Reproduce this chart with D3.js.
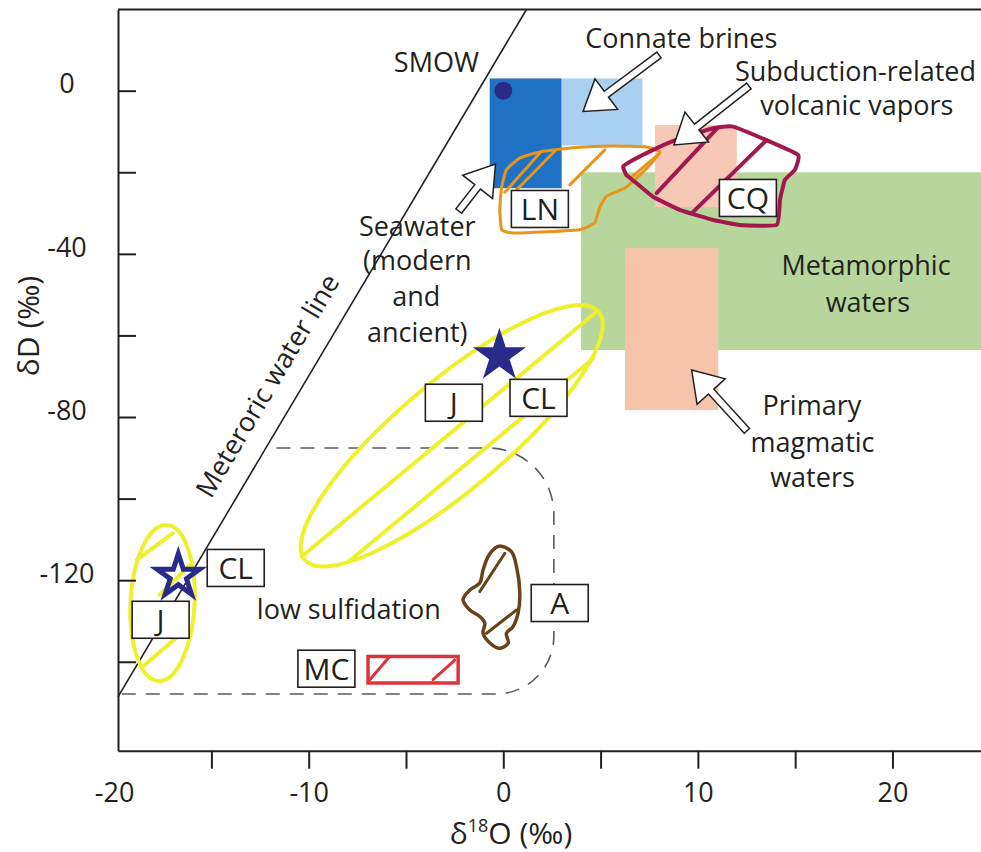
<!DOCTYPE html>
<html><head><meta charset="utf-8">
<script src="https://cdn.jsdelivr.net/npm/d3@7"></script>
<style>
body{margin:0;background:#fff;}
svg{display:block;font-family:"Open Sans",sans-serif;}
</style></head><body>
<svg id="chart" width="981" height="852"></svg>
<script>
// ---------- data (δ18O ‰, δD ‰) ----------
const xTickValues = [-20, -15, -10, -5, 0, 5, 10, 15, 20];
const xTickLabels = [-20, -10, 0, 10, 20];
const yTickValues = [0, -20, -40, -60, -80, -100, -120, -140];
const yTickLabels = [0, -40, -80, -120];

const boxFields = [
  {name: "Metamorphic waters", o18: [4.0, 24.6], dD: [-63.6, -20.0]},
  {name: "Primary magmatic waters", o18: [6.25, 11.05], dD: [-78.3, -38.6]},
  {name: "Subduction-related volcanic vapors", o18: [7.8, 12.0], dD: [-28.5, -8.4]},
  {name: "Seawater", o18: [-0.7, 3.0], dD: [-23.9, 3.0]},
  {name: "Connate brines", o18: [3.0, 7.15], dD: [-13.4, 3.0]}
];
const smow = [0, 0];
const meteoricLine = [[-19.8, -148.6], [1.19, 19.9]];

const lnOutline = [[-0.09,-23.85],[0.16,-19.4],[0.85,-16.5],[1.88,-15.0],[3.57,-14.0],[5.63,-13.55],[7.38,-13.8],[8.05,-15.0],[7.53,-18.2],[6.86,-21.4],[6.25,-23.85],[5.32,-25.8],[4.96,-28.5],[4.70,-32.4],[3.93,-34.1],[2.24,-34.6],[0.49,-34.9],[-0.08,-34.1],[-0.18,-29.2]];
const lnHatch = [[[0.08,-24.9],[1.88,-15.3]],[[0.69,-24.3],[2.65,-14.8]],[[3.42,-23.1],[5.22,-14.5]],[[6.66,-20.9],[8.05,-15.3]]];

const cqOutline = [[6.16,-18.6],[6.67,-17.0],[7.70,-14.5],[9.07,-11.7],[10.79,-9.2],[11.81,-8.8],[13.70,-12.5],[15.16,-15.8],[14.99,-19.4],[14.47,-21.9],[14.22,-26.8],[14.05,-32.9],[12.16,-32.9],[10.79,-31.7],[9.07,-29.2],[7.70,-26.0],[6.85,-22.7],[6.33,-20.7]];
const cqHatch = [[[7.88,-25.1],[11.0,-9.2]],[[9.76,-29.7],[13.53,-12.1]]];

const aOutline = [[-0.18,-111.6],[0.42,-113.0],[0.68,-116.7],[0.85,-123.2],[0.76,-128.1],[0.50,-131.4],[0.16,-133.0],[0.25,-135.4],[-0.18,-136.7],[-0.69,-135.4],[-1.04,-133.0],[-0.95,-130.5],[-1.21,-128.9],[-1.72,-127.3],[-2.07,-124.8],[-1.72,-122.4],[-1.21,-120.7],[-1.04,-117.5],[-0.78,-114.2],[-0.44,-112.2]];
const aHatch = [[[0.08,-113.4],[-1.21,-122.8]],[[0.68,-127.3],[-0.86,-133.0]]];

const mcRect = {o18: [-6.95, -2.32], dD: [-145.2, -138.7]};
const mcHatch = [[[-6.86,-144.4],[-5.84,-138.7]],[[-3.61,-144.4],[-2.49,-139.6]]];

const jBigEllipse = {center: [-2.65, -84.6], tip: [4.9, -54.2], minor: [-0.87, -94.8]};
const jBigChords = [[[-10.36,-114.2],[4.87,-53.9]],[[-7.91,-115.3],[4.64,-65.6]]];
const jSmallEllipse = {center: [-17.51, -125.6], tip: [-17.3, -106.5], minor: [-15.86, -125.6]};
const jSmallChords = [[[-18.84,-115.0],[-16.99,-108.5]],[[-17.66,-123.6],[-16.12,-116.3]],[[-18.43,-140.8],[-16.22,-131.7]]];

const lowSulfidation = {o18Left: [-11.66, -19.8], o18Right: 2.6, dDTop: -87.6, dDBottom: -147.9};

const stars = [
  {name: "CL", o18: -0.2, dD: -65.0, solid: true},
  {name: "CL", o18: -16.7, dD: -119.0, solid: false}
];
const boxLabels = [
  {t: "LN", o18: 1.88, dD: -29.0},
  {t: "CQ", o18: 12.57, dD: -26.3},
  {t: "J", o18: -2.54, dD: -76.5},
  {t: "CL", o18: 1.81, dD: -75.3},
  {t: "CL", o18: -13.75, dD: -117.0},
  {t: "J", o18: -17.61, dD: -129.7},
  {t: "A", o18: 2.90, dD: -125.6},
  {t: "MC", o18: -9.09, dD: -141.7}
];
const notes = [
  {t: "SMOW", o18: -3.44, dD: 4.6},
  {t: "Connate brines", o18: 9.15, dD: 10.5},
  {t: "Subduction-related", o18: 18.1, dD: 2.4},
  {t: "volcanic vapors", o18: 18.17, dD: -6.0},
  {t: "Seawater", o18: -4.42, dD: -35.6},
  {t: "(modern", o18: -4.42, dD: -44.0},
  {t: "and", o18: -4.47, dD: -52.8},
  {t: "ancient)", o18: -4.42, dD: -61.6},
  {t: "Metamorphic", o18: 18.64, dD: -45.2},
  {t: "waters", o18: 18.74, dD: -54.2},
  {t: "Primary", o18: 15.86, dD: -79.5},
  {t: "magmatic", o18: 15.89, dD: -88.5},
  {t: "waters", o18: 15.89, dD: -97.1},
  {t: "low sulfidation", o18: -7.94, dD: -129.5}
];
const meteoricLabel = {t: "Meteroric water line", o18: -11.7, dD: -73.5};
const arrows = [
  {tail: [-2.29, -29.5], tip: [-0.40, -18.0]},
  {tail: [8.0, 8.75], tip: [4.10, -5.1]},
  {tail: [12.62, 1.15], tip: [8.77, -13.3]},
  {tail: [12.52, -83.4], tip: [9.68, -68.5]}
];

// ---------- drawing ----------
const svg = d3.select("#chart");
const x = d3.scaleLinear().domain([-19.8, 24.55]).range([118, 981]);
const y = d3.scaleLinear().domain([-161.8, 19.9]).range([750.7, 9.5]);
const P = d => [x(d[0]), y(d[1])];
const ink = "#231f20";
const fieldColor = {
  "Metamorphic waters": "#b7d69b",
  "Primary magmatic waters": "#f6c3ab",
  "Subduction-related volcanic vapors": "#f6c8b5",
  "Seawater": "#1f72c3",
  "Connate brines": "#a9d0f1"
};

const plot = svg.append("g");
plot.selectAll("rect.field").data(boxFields).join("rect")
  .attr("class", "field")
  .attr("x", d => x(d.o18[0])).attr("width", d => x(d.o18[1]) - x(d.o18[0]))
  .attr("y", d => y(d.dD[1])).attr("height", d => y(d.dD[0]) - y(d.dD[1]))
  .attr("fill", d => fieldColor[d.name]);

plot.append("circle").attr("cx", x(smow[0])).attr("cy", y(smow[1])).attr("r", 9)
  .attr("fill", "#2a2b86");

const line = d3.line().x(d => x(d[0])).y(d => y(d[1]));
plot.append("path").attr("d", line(meteoricLine)).attr("stroke", ink).attr("stroke-width", 1.6).attr("fill", "none");

// low sulfidation dashed field
(function(){
  const xl1 = x(lowSulfidation.o18Left[0]), xl2 = x(lowSulfidation.o18Left[1]);
  const xr = x(lowSulfidation.o18Right), yt = y(lowSulfidation.dDTop), yb = y(lowSulfidation.dDBottom);
  const r1 = 66, r2 = 58;
  const d = `M${xl1},${yt}H${xr - r1}A${r1},${r1} 0 0 1 ${xr},${yt + r1}V${yb - r2}A${r2},${r2} 0 0 1 ${xr - r2},${yb}H${xl2}`;
  plot.append("path").attr("d", d).attr("fill", "none").attr("stroke", "#5b5b5b")
    .attr("stroke-width", 1.6).attr("stroke-dasharray", "14,10");
})();

const yellow = "#eef02c";
function drawEllipse(e, sw) {
  const c = P(e.center), t = P(e.tip), m = P(e.minor);
  const a = Math.hypot(t[0] - c[0], t[1] - c[1]);
  const b = Math.hypot(m[0] - c[0], m[1] - c[1]);
  const ang = Math.atan2(t[1] - c[1], t[0] - c[0]) * 180 / Math.PI;
  plot.append("ellipse").attr("cx", c[0]).attr("cy", c[1]).attr("rx", a).attr("ry", b)
    .attr("transform", `rotate(${ang},${c[0]},${c[1]})`)
    .attr("fill", "none").attr("stroke", yellow).attr("stroke-width", sw);
}
function drawSegs(segs, color, sw) {
  plot.append("g").selectAll("path").data(segs).join("path")
    .attr("d", d => line(d)).attr("stroke", color).attr("stroke-width", sw)
    .attr("fill", "none").attr("stroke-linecap", "round");
}
drawEllipse(jBigEllipse, 4);
drawSegs(jBigChords, yellow, 4);
drawEllipse(jSmallEllipse, 4);
drawSegs(jSmallChords, yellow, 4);

const smooth = d3.line().x(d => x(d[0])).y(d => y(d[1])).curve(d3.curveCatmullRomClosed.alpha(0.5));
const angular = d3.line().x(d => x(d[0])).y(d => y(d[1])).curve(d3.curveCardinalClosed.tension(0.6));
const orange = "#e8951c", crimson = "#a3174f", brown = "#6a4215", red = "#df333b";
plot.append("path").attr("d", angular(lnOutline)).attr("fill", "none").attr("stroke", orange).attr("stroke-width", 3).attr("stroke-linejoin", "round");
drawSegs(lnHatch, orange, 3);
plot.append("path").attr("d", angular(cqOutline)).attr("fill", "none").attr("stroke", crimson).attr("stroke-width", 4).attr("stroke-linejoin", "round");
drawSegs(cqHatch, crimson, 4);
plot.append("path").attr("d", smooth(aOutline)).attr("fill", "none").attr("stroke", brown).attr("stroke-width", 3.5);
drawSegs(aHatch, brown, 3);
plot.append("rect").attr("x", x(mcRect.o18[0])).attr("y", y(mcRect.dD[1]))
  .attr("width", x(mcRect.o18[1]) - x(mcRect.o18[0])).attr("height", y(mcRect.dD[0]) - y(mcRect.dD[1]))
  .attr("fill", "none").attr("stroke", red).attr("stroke-width", 3.5);
drawSegs(mcHatch, red, 3);

// stars
const navy = "#2a2a8c";
plot.selectAll("path.star").data(stars).join("path").attr("class", "star")
  .attr("transform", d => `translate(${x(d.o18)},${y(d.dD)})`)
  .attr("d", d => d3.symbol(d3.symbolStar, d.solid ? 880 : 560)())
  .attr("fill", d => d.solid ? navy : "none")
  .attr("stroke", navy).attr("stroke-width", d => d.solid ? 0 : 5).attr("stroke-linejoin", "miter");

// arrows
function arrowPath(a) {
  const T = P(a.tail), H = P(a.tip);
  const L = Math.hypot(H[0] - T[0], H[1] - T[1]);
  const ux = (H[0] - T[0]) / L, uy = (H[1] - T[1]) / L, nx = -uy, ny = ux;
  const hl = 29, hw = 19, sw = 3.6;
  const B = [H[0] - hl * ux, H[1] - hl * uy];
  const pts = [
    [T[0] + sw * nx, T[1] + sw * ny], [B[0] + sw * nx, B[1] + sw * ny], [B[0] + hw * nx, B[1] + hw * ny],
    H, [B[0] - hw * nx, B[1] - hw * ny], [B[0] - sw * nx, B[1] - sw * ny], [T[0] - sw * nx, T[1] - sw * ny]
  ];
  return "M" + pts.map(p => p.join(",")).join("L") + "Z";
}
plot.selectAll("path.arrow").data(arrows).join("path").attr("class", "arrow")
  .attr("d", arrowPath).attr("fill", "#fff").attr("stroke", ink).attr("stroke-width", 1.5).attr("stroke-linejoin", "miter");

// box labels
const lb = plot.selectAll("g.lbl").data(boxLabels).join("g").attr("class", "lbl")
  .attr("transform", d => `translate(${x(d.o18)},${y(d.dD)})`);
lb.append("rect").attr("x", -28.5).attr("y", -18.5).attr("width", 57).attr("height", 37)
  .attr("fill", "#fff").attr("stroke", ink).attr("stroke-width", 1.6);
lb.append("text").attr("text-anchor", "middle").attr("dy", "0.36em").attr("font-size", 30)
  .attr("fill", ink).text(d => d.t);

// notes
plot.selectAll("text.note").data(notes).join("text").attr("class", "note")
  .attr("x", d => x(d.o18)).attr("y", d => y(d.dD)).attr("text-anchor", "middle")
  .attr("font-size", 27).attr("fill", ink).text(d => d.t);
const mwAng = Math.atan2(y(meteoricLine[1][1]) - y(meteoricLine[0][1]), x(meteoricLine[1][0]) - x(meteoricLine[0][0])) * 180 / Math.PI;
plot.append("text").attr("transform", `translate(${x(meteoricLabel.o18)},${y(meteoricLabel.dD)}) rotate(${mwAng})`)
  .attr("text-anchor", "middle").attr("font-size", 27).attr("fill", ink).text(meteoricLabel.t);

// axes
const gx = svg.append("g").attr("transform", `translate(0,${y.range()[0]})`)
  .call(d3.axisBottom(x).tickValues(xTickValues).tickSize(18).tickSizeOuter(0).tickPadding(14)
    .tickFormat(d => xTickLabels.includes(d) ? String(d) : ""));
gx.selectAll(".tick").filter(d => d === -20).select("line").remove();
const gy = svg.append("g").attr("transform", `translate(${x.range()[0]},0)`)
  .call(d3.axisLeft(y).tickValues(yTickValues).tickSize(-18).tickSizeOuter(0).tickPadding(51)
    .tickFormat(d => yTickLabels.includes(d) ? String(d) : ""));
gy.selectAll("text").attr("text-anchor", "middle").attr("dy", "0.08em");
[gx, gy].forEach(g => {
  g.selectAll("path.domain").attr("stroke", ink).attr("stroke-width", 2);
  g.selectAll("line").attr("stroke", ink).attr("stroke-width", 2);
  g.selectAll("text").attr("font-size", 27).attr("fill", ink).attr("font-family", "Open Sans, sans-serif");
});
svg.append("line").attr("x1", x.range()[0]).attr("x2", x.range()[1]).attr("y1", y.range()[1]).attr("y2", y.range()[1])
  .attr("stroke", ink).attr("stroke-width", 2);

// axis titles
const xt = svg.append("text").attr("x", 511).attr("y", 844).attr("text-anchor", "middle").attr("font-size", 30).attr("fill", ink);
xt.append("tspan").text("δ");
xt.append("tspan").attr("font-size", 18).attr("dy", -12).text("18");
xt.append("tspan").attr("dy", 12).text("O (‰)");
svg.append("text").attr("transform", "translate(39,326) rotate(-90)").attr("text-anchor", "middle")
  .attr("font-size", 30).attr("fill", ink).text("δD (‰)");
</script>
</body></html>
